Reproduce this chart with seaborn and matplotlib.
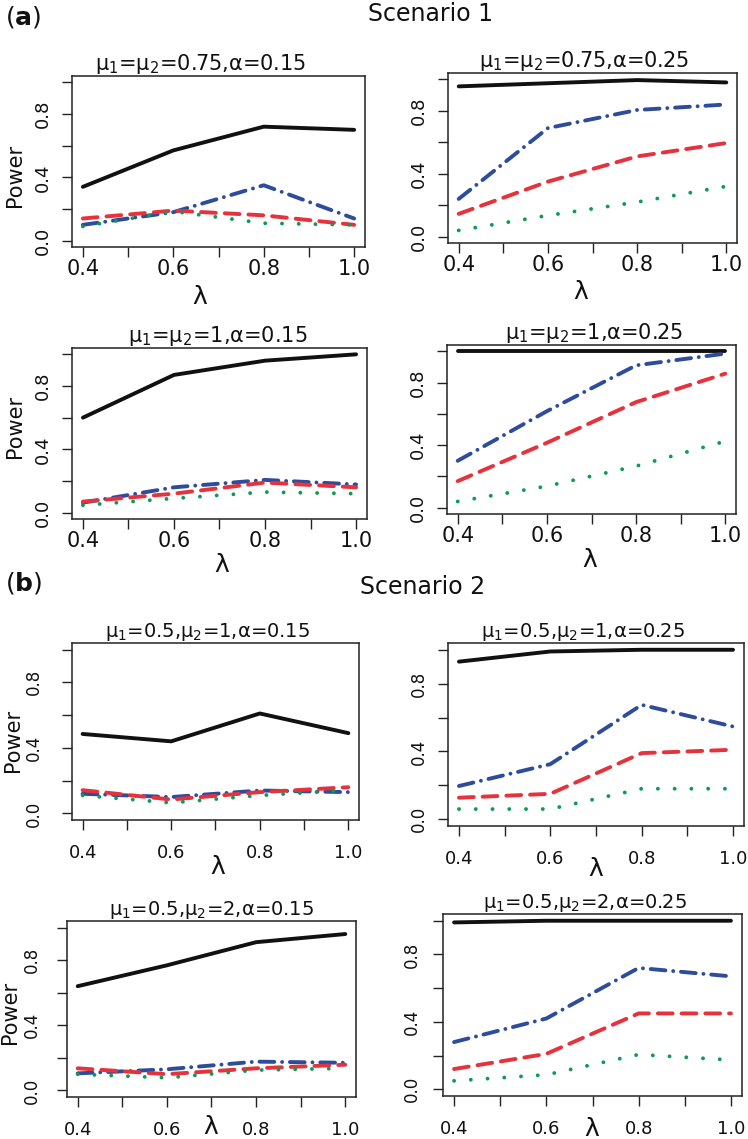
import matplotlib
import matplotlib.pyplot as plt
import pandas as pd
import seaborn as sns

matplotlib.use('agg')

lam = [0.4, 0.6, 0.8, 1.0]
methods = ['solid', 'dashdot', 'dash', 'dot']

titles = [r'$\mu_1$=$\mu_2$=0.75,$\alpha$=0.15', r'$\mu_1$=$\mu_2$=0.75,$\alpha$=0.25',
          r'$\mu_1$=$\mu_2$=1,$\alpha$=0.15', r'$\mu_1$=$\mu_2$=1,$\alpha$=0.25',
          r'$\mu_1$=0.5,$\mu_2$=1,$\alpha$=0.15', r'$\mu_1$=0.5,$\mu_2$=1,$\alpha$=0.25',
          r'$\mu_1$=0.5,$\mu_2$=2,$\alpha$=0.15', r'$\mu_1$=0.5,$\mu_2$=2,$\alpha$=0.25']

# scenario 1, mu1=mu2=0.75
p1_solid = [0.34, 0.57, 0.72, 0.70]
p1_dashdot = [0.10, 0.18, 0.35, 0.14]
p1_dash = [0.14, 0.19, 0.16, 0.10]
p1_dot = [0.09, 0.185, 0.11, 0.10]

p2_solid = [0.955, 0.975, 0.995, 0.98]
p2_dashdot = [0.24, 0.69, 0.805, 0.84]
p2_dash = [0.145, 0.35, 0.51, 0.595]
p2_dot = [0.04, 0.135, 0.22, 0.32]

# scenario 1, mu1=mu2=1
p3_solid = [0.60, 0.87, 0.96, 1.0]
p3_dashdot = [0.063, 0.16, 0.207, 0.178]
p3_dash = [0.07, 0.12, 0.19, 0.16]
p3_dot = [0.047, 0.09, 0.13, 0.12]

p4_solid = [1.0, 1.0, 1.0, 1.0]
p4_dashdot = [0.30, 0.617, 0.91, 0.985]
p4_dash = [0.17, 0.415, 0.675, 0.857]
p4_dot = [0.04, 0.138, 0.266, 0.425]

# scenario 2, mu1=0.5, mu2=1
p5_solid = [0.485, 0.44, 0.61, 0.49]
p5_dashdot = [0.12, 0.10, 0.14, 0.13]
p5_dash = [0.142, 0.085, 0.13, 0.16]
p5_dot = [0.11, 0.065, 0.11, 0.142]

p6_solid = [0.93, 0.99, 1.0, 1.0]
p6_dashdot = [0.196, 0.325, 0.675, 0.547]
p6_dash = [0.127, 0.15, 0.39, 0.41]
p6_dot = [0.06, 0.06, 0.18, 0.18]

# scenario 2, mu1=0.5, mu2=2
p7_solid = [0.64, 0.768, 0.91, 0.96]
p7_dashdot = [0.105, 0.13, 0.177, 0.17]
p7_dash = [0.136, 0.10, 0.136, 0.158]
p7_dot = [0.10, 0.078, 0.125, 0.136]

p8_solid = [0.99, 1.0, 1.0, 1.0]
p8_dashdot = [0.28, 0.42, 0.72, 0.67]
p8_dash = [0.12, 0.21, 0.45, 0.45]
p8_dot = [0.05, 0.086, 0.206, 0.174]

panels = [
    (p1_solid, p1_dashdot, p1_dash, p1_dot),
    (p2_solid, p2_dashdot, p2_dash, p2_dot),
    (p3_solid, p3_dashdot, p3_dash, p3_dot),
    (p4_solid, p4_dashdot, p4_dash, p4_dot),
    (p5_solid, p5_dashdot, p5_dash, p5_dot),
    (p6_solid, p6_dashdot, p6_dash, p6_dot),
    (p7_solid, p7_dashdot, p7_dash, p7_dot),
    (p8_solid, p8_dashdot, p8_dash, p8_dot),
]

palette = {'solid': '#111111', 'dashdot': '#2E4C9C', 'dash': '#E6323C', 'dot': '#0E9A55'}
dashes = {'solid': '', 'dashdot': (3.8, 2.0, 0.01, 2.0), 'dash': (3.8, 2.3), 'dot': (0.01, 4.3)}

W, H = 748, 1139
# axes boxes in pixels: left, top, right, bottom
boxes = [(72, 76, 365, 247), (448, 73, 737, 243),
         (72, 348, 367, 519), (447, 345, 736, 514),
         (72, 643, 359, 820), (448, 643, 744, 826),
         (67, 921, 356, 1097), (443, 914, 742, 1096)]
title_x = [0.44, 0.47, 0.495, 0.51, 0.474, 0.456, 0.5, 0.475]
xlab_pos = [(0.437, -0.22), (0.46, -0.22), (0.51, -0.2), (0.495, -0.2),
            (0.51, -0.198), (0.5, -0.17), (0.5, -0.105), (0.5, -0.115)]
ylab_pos = {0: (-0.16, 0.42), 2: (-0.16, 0.54), 4: (-0.17, 0.45), 6: (-0.163, 0.48)}
ypads = [7, 7, 7, 7, 14, 7, 11.5, 8.6]

sns.set_theme(style='white')
plt.rcParams['font.family'] = ['DejaVu Sans']
plt.rcParams['mathtext.default'] = 'regular'
plt.rcParams['text.color'] = '#111111'
plt.rcParams['axes.labelcolor'] = '#111111'
plt.rcParams['xtick.color'] = '#111111'
plt.rcParams['ytick.color'] = '#111111'

fig = plt.figure(figsize=(W / 100, H / 100), dpi=100)

for i, (vals, box) in enumerate(zip(panels, boxes)):
    l, t, r, b = box
    ax = fig.add_axes([l / W, 1 - b / H, (r - l) / W, (b - t) / H])
    df = pd.DataFrame({
        'lambda': lam * 4,
        'power': [v for series in vals for v in series],
        'method': [m for m in methods for _ in lam],
    })
    sns.lineplot(data=df, x='lambda', y='power', hue='method', style='method',
                 hue_order=methods, style_order=methods, palette=palette, dashes=dashes,
                 linewidth=2.8, errorbar=None, legend=False, ax=ax)
    for line in ax.lines:
        line.set_dash_capstyle('round')
        line.set_solid_capstyle('round')

    ax.set_xlim(0.376, 1.024)
    ax.set_ylim(-0.04, 1.04)
    ax.set_xticks([0.4, 0.5, 0.6, 0.7, 0.8, 0.9, 1.0])
    ax.set_xticklabels(['0.4', '', '0.6', '', '0.8', '', '1.0'])
    ax.set_yticks([0.0, 0.2, 0.4, 0.6, 0.8, 1.0])
    ax.set_yticklabels(['0.0', '', '0.4', '', '0.8', ''], rotation=90, va='center')
    for sp in ax.spines.values():
        sp.set_visible(True)
        sp.set_color('#222222')
        sp.set_linewidth(1.1)

    top_rows = i < 4
    ax.tick_params(axis='both', direction='out', length=7.2, width=1.0, color='#222222',
                   bottom=True, left=True)
    ax.tick_params(axis='x', pad=1.5 if top_rows else 10, labelsize=15 if top_rows else 13)
    ax.tick_params(axis='y', pad=ypads[i], labelsize=13 if top_rows else 12)

    ax.set_title(titles[i], fontsize=15 if top_rows else 14, x=title_x[i], pad=4)
    ax.set_xlabel(r'$\lambda$', fontsize=18)
    ax.xaxis.set_label_coords(*xlab_pos[i])
    if i in ylab_pos:
        ax.set_ylabel('Power', fontsize=15)
        ax.yaxis.set_label_coords(*ylab_pos[i])
    else:
        ax.set_ylabel('')

fig.text(5 / W, 1 - 17 / H, r'($\mathbf{a}$)', fontsize=18, va='center', ha='left')
fig.text(430 / W, 1 - 14 / H, 'Scenario 1', fontsize=17, va='center', ha='center')
fig.text(5 / W, 1 - 583 / H, r'($\mathbf{b}$)', fontsize=18, va='center', ha='left')
fig.text(423 / W, 1 - 587 / H, 'Scenario 2', fontsize=17, va='center', ha='center')

fig.savefig('out.png', dpi=100)
